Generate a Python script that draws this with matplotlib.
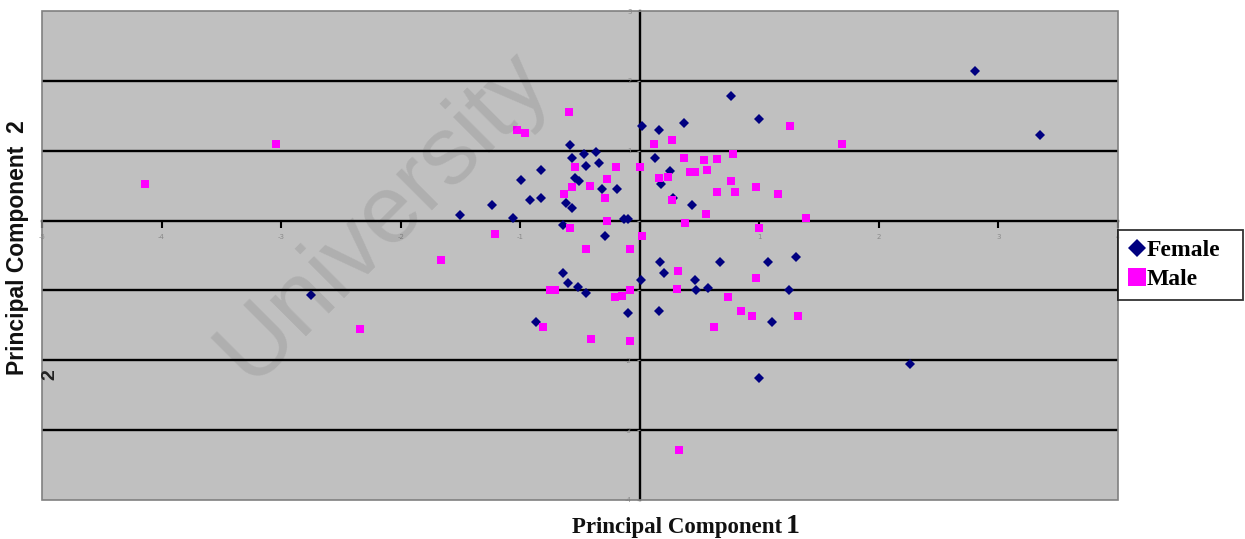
import matplotlib
matplotlib.use("Agg")
import matplotlib.pyplot as plt
from matplotlib.lines import Line2D
from matplotlib.patches import Rectangle

# ---------------- data ----------------
female_pc1 = [2.80, 3.35, 0.76, 0.37, 1.00, 0.02, 0.16, -0.58, -0.47, -0.37,
              -0.57, 0.13, -0.34, -0.45, -0.83, -0.99, -0.54, -0.51, 0.25, 0.18,
              -0.32, -0.19, -0.83, -0.92, -0.62, -0.57, 0.28, 0.44, -1.24, -1.50,
              -1.06, -0.13, -0.10, -0.64, -0.29, 0.17, 0.67, 1.07, 1.31, -0.64,
              -0.60, -0.52, -0.45, 0.01, -0.10, -0.87, 0.20, 0.46, 0.47, 0.57,
              0.16, 1.25, 1.11, 1.00, 2.26, -2.75]
female_pc2 = [2.14, 1.23, 1.79, 1.40, 1.45, 1.36, 1.29, 1.08, 0.96, 0.98,
              0.89, 0.89, 0.82, 0.78, 0.73, 0.58, 0.61, 0.56, 0.71, 0.52,
              0.45, 0.45, 0.33, 0.29, 0.25, 0.18, 0.33, 0.22, 0.22, 0.08,
              0.04, 0.02, 0.02, -0.06, -0.22, -0.59, -0.59, -0.59, -0.52, -0.75,
              -0.89, -0.95, -1.03, -0.85, -1.32, -1.45, -0.75, -0.85, -1.00, -0.96,
              -1.29, -1.00, -1.45, -2.26, -2.06, -1.06]

male_pc1 = [-4.14, -3.04, -2.34, -1.66, -1.21, -1.03, -0.96, -0.59, 0.12, 0.27,
            1.26, 1.69, -0.20, 0.00, -0.54, 0.37, 0.54, 0.56, 0.65, 0.78,
            0.42, 0.46, 0.16, 0.24, -0.27, -0.42, -0.57, -0.63, -0.29, 0.27,
            0.65, 0.76, 0.80, 0.97, 1.16, 1.39, 0.55, 0.38, -0.27, -0.58,
            0.02, -0.45, -0.08, 1.00, 0.32, 0.31, -0.21, -0.15, -0.08, -0.75,
            -0.71, -0.81, -0.41, -0.08, 0.97, 0.74, 0.85, 0.94, 1.32, 0.62,
            0.33]
male_pc2 = [0.52, 1.10, -1.55, -0.56, -0.19, 1.29, 1.25, 1.56, 1.10, 1.15,
            1.36, 1.10, 0.76, 0.76, 0.76, 0.89, 0.86, 0.73, 0.88, 0.96,
            0.69, 0.69, 0.61, 0.62, 0.59, 0.49, 0.48, 0.38, 0.33, 0.29,
            0.41, 0.56, 0.41, 0.48, 0.38, 0.04, 0.09, -0.04, -0.01, -0.11,
            -0.22, -0.41, -0.41, -0.11, -0.72, -0.98, -1.10, -1.08, -1.00, -1.00,
            -1.00, -1.52, -1.69, -1.73, -0.82, -1.10, -1.30, -1.37, -1.37, -1.53,
            -3.28]

x_ticks = [-5, -4, -3, -2, -1, 0, 1, 2, 3, 4]
y_ticks = [-4, -3, -2, -1, 0, 1, 2, 3]
grid_levels = [-3, -2, -1, 1, 2]
series_labels = ["Female", "Male"]

# ---------------- figure ----------------
W, H = 1245, 539
fig = plt.figure(figsize=(W / 100, H / 100), dpi=100)
ax = fig.add_axes([42 / W, 1 - 500 / H, 1076 / W, 489 / H])
ax.set_facecolor("#c0c0c0")
ax.set_xlim(-5, 4)
ax.set_ylim(-4, 3)

for g in grid_levels:
    ax.axhline(g, color="black", lw=1.7, zorder=1)

# axes crossing at zero
for s in ["top", "right"]:
    ax.spines[s].set_visible(False)
ax.spines["left"].set_position(("data", 0))
ax.spines["bottom"].set_position(("data", 0))
for s in ["left", "bottom"]:
    ax.spines[s].set_color("black")
    ax.spines[s].set_linewidth(1.7)
    ax.spines[s].set_zorder(1.5)

ax.add_patch(Rectangle((0, 0), 1, 1, transform=ax.transAxes, fill=False,
                       edgecolor="#808080", lw=1.2, zorder=4, clip_on=False))

ax.set_xticks(x_ticks)
ax.set_xticklabels([str(t) if t != 0 else "" for t in x_ticks])
ax.set_yticks(y_ticks)
ax.set_yticklabels([str(t) if t != 0 else "" for t in y_ticks])
ax.tick_params(axis="x", direction="out", length=5, width=1.5, color="black",
               labelsize=5, labelcolor="#8a8a8a", pad=5)
ax.tick_params(axis="y", direction="out", length=2, width=0.8, color="#8a8a8a",
               labelsize=5, labelcolor="#8a8a8a", pad=4)

ax.plot(female_pc1, female_pc2, ls="none", marker="D", ms=5.3, color="#000080",
        mec="#000080", mew=0, zorder=3, clip_on=False)
ax.plot(male_pc1, male_pc2, ls="none", marker="s", ms=6.2, color="#ff00ff",
        mec="#ff00ff", mew=0, zorder=3, clip_on=False)

# axis titles
fig.text(18 / W, 1 - 248 / H, "Principal Component  2", rotation=90,
         ha="center", va="center", fontsize=16.5, fontweight="bold",
         family="Liberation Sans", color="#111111")
fig.text(50 / W, 1 - 375 / H, "2", rotation=90, ha="center", va="center",
         fontsize=14, fontweight="bold", family="Liberation Sans", color="#222222")
fig.text(782 / W, 1 - 533 / H, "Principal Component", ha="right", va="baseline",
         fontsize=16.5, fontweight="bold", family="Liberation Serif", color="#111111")
fig.text(786 / W, 1 - 533 / H, "1", ha="left", va="baseline",
         fontsize=20, fontweight="bold", family="Liberation Serif", color="#111111")

# legend
handles = [
    Line2D([], [], ls="none", marker="D", ms=9.5, color="#000080", mew=0),
    Line2D([], [], ls="none", marker="s", ms=13, color="#ff00ff", mew=0),
]
leg = fig.legend(handles, series_labels, loc="upper left", mode="expand",
                 bbox_to_anchor=(1118 / W, 1 - 298 / H, 125 / W, 68 / H),
                 bbox_transform=fig.transFigure, frameon=True, fancybox=False,
                 edgecolor="black", prop={"family": "Liberation Serif",
                                          "weight": "bold", "size": 17},
                 handlelength=0.8, handletextpad=0.0, borderpad=0.42,
                 labelspacing=0.3, borderaxespad=0)
leg.get_frame().set_linewidth(1.3)

# faint watermark
fig.text(250 / W, 1 - 385 / H, "University", rotation=45,
         rotation_mode="anchor", ha="left", va="baseline", fontsize=70,
         family="Liberation Sans", color="black", alpha=0.09, zorder=10)

fig.savefig("out.png", dpi=100)
